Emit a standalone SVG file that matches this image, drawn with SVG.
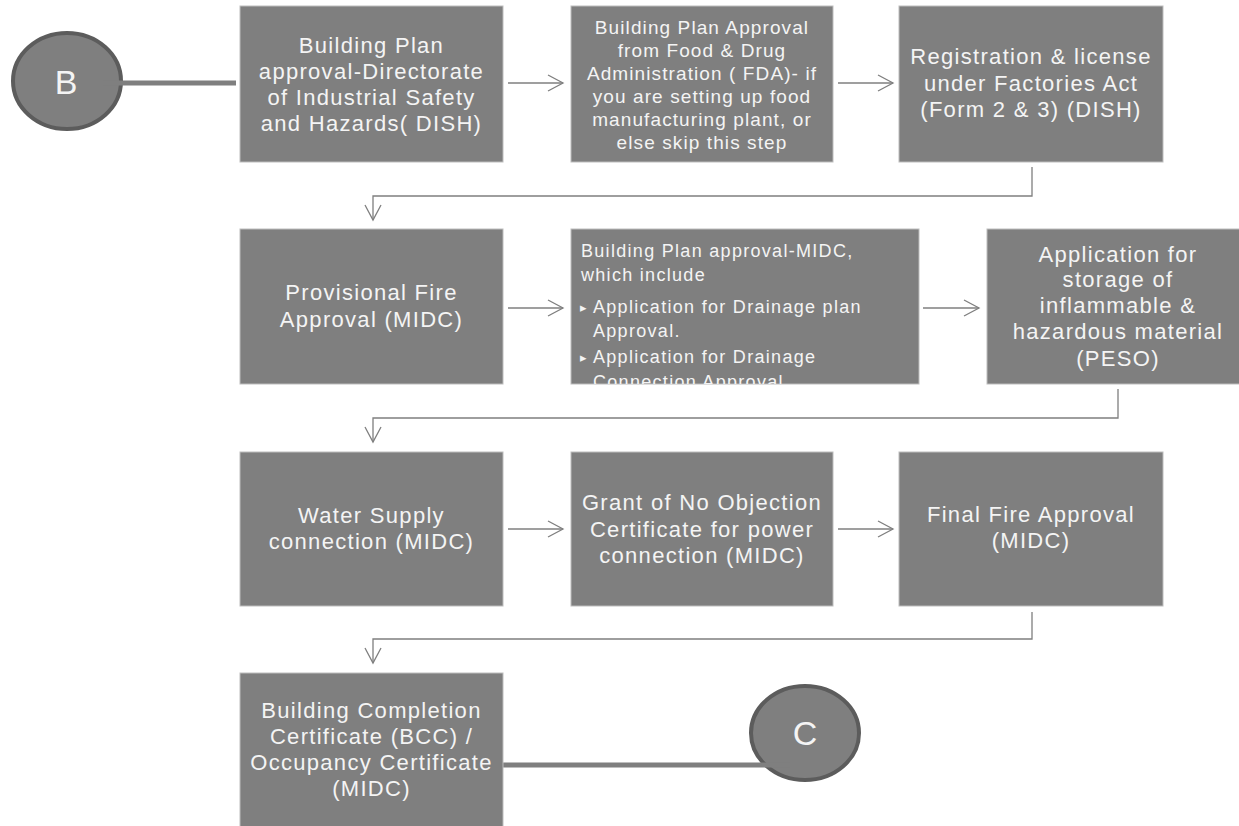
<svg xmlns="http://www.w3.org/2000/svg" width="1239" height="826" viewBox="0 0 1239 826">
<style>
.box{fill:#7f7f7f;stroke:#bdbdbd;stroke-width:1}
.circ{fill:#7f7f7f;stroke:#5c5c5c;stroke-width:4}
.t{font-family:"Liberation Sans",Arial,sans-serif;fill:#f4f4f4;font-size:22px;letter-spacing:1.3px;text-anchor:middle}
.s{font-size:19px;letter-spacing:1.1px}
.l{font-size:18px;letter-spacing:1.3px;text-anchor:start}
.big{font-size:34px;letter-spacing:0}
.con{fill:none;stroke:#7f7f7f;stroke-width:1.3}
.thick{fill:none;stroke:#7f7f7f;stroke-width:5}
.bul{font-family:"DejaVu Sans",sans-serif;font-size:13px;letter-spacing:0}
</style>
<defs>
<marker id="arr" markerUnits="userSpaceOnUse" markerWidth="18" markerHeight="18" refX="16" refY="9" orient="auto">
<path d="M1,1 L16,9 L1,17" fill="none" stroke="#7f7f7f" stroke-width="1.3"/>
</marker>
<clipPath id="clip5"><rect x="571" y="229" width="348" height="155"/></clipPath>
</defs>

<g id="nodeB">
<ellipse class="circ" cx="67" cy="81" rx="54" ry="48"/>
<text class="t big" x="66" y="94">B</text>
</g>
<g id="nodeC">
<ellipse class="circ" cx="805" cy="733" rx="54" ry="47"/>
<text class="t big" x="805" y="745">C</text>
</g>

<g id="connectors">
<line class="thick" x1="103" y1="83" x2="236" y2="83"/>
<line class="thick" x1="503" y1="765" x2="790" y2="765"/>
<line class="con" x1="508" y1="83" x2="563" y2="83" marker-end="url(#arr)"/>
<line class="con" x1="838" y1="83" x2="893" y2="83" marker-end="url(#arr)"/>
<polyline class="con" points="1032,167 1032,196 373,196 373,220" marker-end="url(#arr)"/>
<line class="con" x1="508" y1="308" x2="563" y2="308" marker-end="url(#arr)"/>
<line class="con" x1="923" y1="308" x2="979" y2="308" marker-end="url(#arr)"/>
<polyline class="con" points="1118,389 1118,418 373,418 373,442" marker-end="url(#arr)"/>
<line class="con" x1="508" y1="529" x2="563" y2="529" marker-end="url(#arr)"/>
<line class="con" x1="838" y1="529" x2="893" y2="529" marker-end="url(#arr)"/>
<polyline class="con" points="1032,612 1032,639 373,639 373,663" marker-end="url(#arr)"/>
</g>

<g id="n1">
<rect class="box" x="240" y="6" width="263" height="156"/>
<text class="t"><tspan x="371.5" y="53">Building Plan</tspan><tspan x="371.5" y="79">approval-Directorate</tspan><tspan x="371.5" y="105">of Industrial Safety</tspan><tspan x="371.5" y="131">and Hazards( DISH)</tspan></text>
</g>
<g id="n2">
<rect class="box" x="571" y="6" width="262" height="156"/>
<text class="t s"><tspan x="702" y="34">Building Plan Approval</tspan><tspan x="702" y="57">from Food &amp; Drug</tspan><tspan x="702" y="80">Administration ( FDA)- if</tspan><tspan x="702" y="103">you are setting up food</tspan><tspan x="702" y="126">manufacturing plant, or</tspan><tspan x="702" y="149">else skip this step</tspan></text>
</g>
<g id="n3">
<rect class="box" x="899" y="6" width="264" height="156"/>
<text class="t"><tspan x="1031" y="64">Registration &amp; license</tspan><tspan x="1031" y="91">under Factories Act</tspan><tspan x="1031" y="117">(Form 2 &amp; 3) (DISH)</tspan></text>
</g>
<g id="n4">
<rect class="box" x="240" y="229" width="263" height="155"/>
<text class="t"><tspan x="371.5" y="300">Provisional Fire</tspan><tspan x="371.5" y="327">Approval (MIDC)</tspan></text>
</g>
<g id="n5">
<rect class="box" x="571" y="229" width="348" height="155"/>
<g clip-path="url(#clip5)">
<text class="t l"><tspan x="581" y="257">Building Plan approval-MIDC,</tspan><tspan x="581" y="281">which include</tspan><tspan x="580" y="312" class="bul">▸</tspan><tspan x="593" y="313">Application for Drainage plan</tspan><tspan x="593" y="337">Approval.</tspan><tspan x="580" y="362" class="bul">▸</tspan><tspan x="593" y="363">Application for Drainage</tspan><tspan x="593" y="388">Connection Approval</tspan></text>
</g>
</g>
<g id="n6">
<rect class="box" x="987" y="229" width="262" height="155"/>
<text class="t"><tspan x="1118" y="262">Application for</tspan><tspan x="1118" y="287">storage of</tspan><tspan x="1118" y="313">inflammable &amp;</tspan><tspan x="1118" y="339">hazardous material</tspan><tspan x="1118" y="366">(PESO)</tspan></text>
</g>
<g id="n7">
<rect class="box" x="240" y="452" width="263" height="154"/>
<text class="t"><tspan x="371.5" y="523">Water Supply</tspan><tspan x="371.5" y="549">connection (MIDC)</tspan></text>
</g>
<g id="n8">
<rect class="box" x="571" y="452" width="262" height="154"/>
<text class="t"><tspan x="702" y="510">Grant of No Objection</tspan><tspan x="702" y="537">Certificate for power</tspan><tspan x="702" y="563">connection (MIDC)</tspan></text>
</g>
<g id="n9">
<rect class="box" x="899" y="452" width="264" height="154"/>
<text class="t"><tspan x="1031" y="522">Final Fire Approval</tspan><tspan x="1031" y="548">(MIDC)</tspan></text>
</g>
<g id="n10">
<rect class="box" x="240" y="673" width="263" height="160"/>
<text class="t"><tspan x="371.5" y="718">Building Completion</tspan><tspan x="371.5" y="744">Certificate (BCC) /</tspan><tspan x="371.5" y="770">Occupancy Certificate</tspan><tspan x="371.5" y="796">(MIDC)</tspan></text>
</g>
</svg>
